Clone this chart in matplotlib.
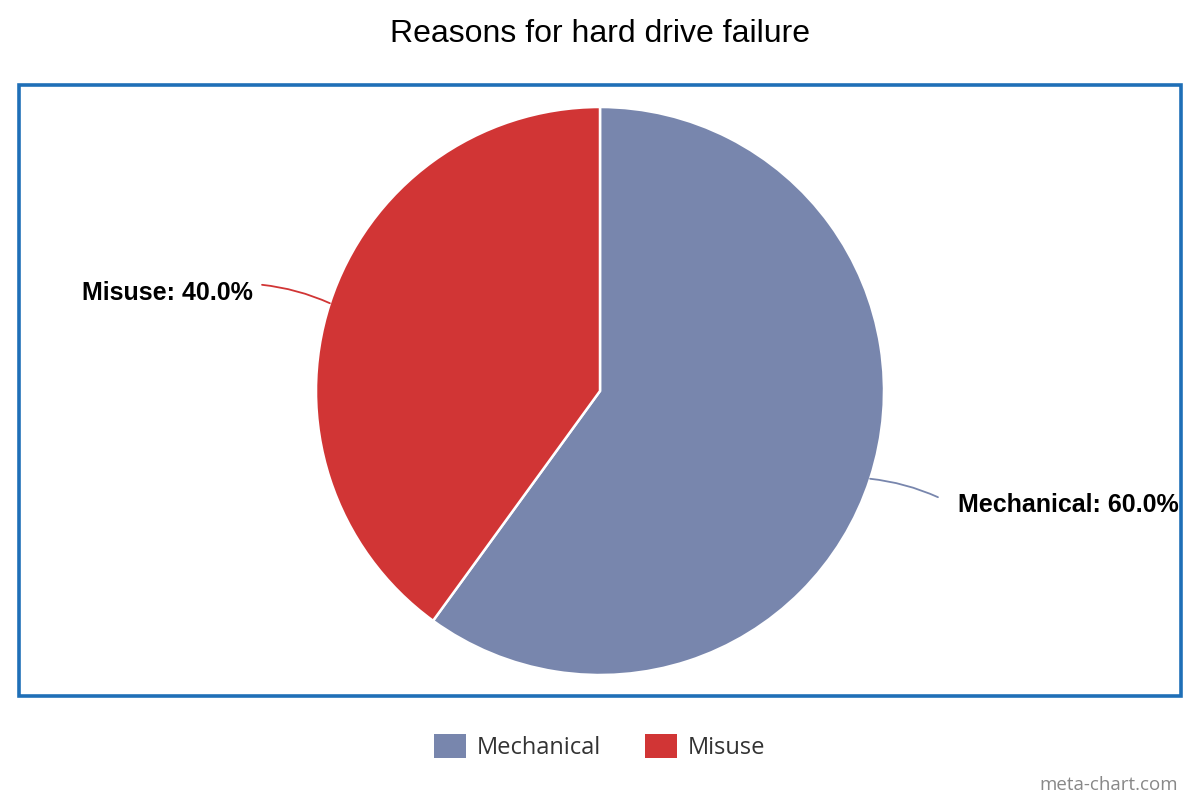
import numpy as np
import matplotlib.pyplot as plt
from matplotlib.patches import Rectangle

labels = ["Mechanical", "Misuse"]
values = [60.0, 40.0]
colors = ["#7886ad", "#d13535"]

fig = plt.figure(figsize=(12, 8), dpi=100)

# blue frame around plot area
fig.patches.append(Rectangle((19 / 1200, (800 - 696) / 800), 1162 / 1200, 611 / 800,
                             transform=fig.transFigure, fill=False,
                             edgecolor="#1f6fb7", linewidth=2.6))

fig.text(0.5, 1 - 34 / 800, "Reasons for hard drive failure", ha="center", va="center",
         fontsize=23, family="Liberation Sans")

r = 284
cx, cy = 600, 800 - 391
ax = fig.add_axes([(cx - r) / 1200, (cy - r) / 800, 2 * r / 1200, 2 * r / 800])
wedges, _ = ax.pie(values, colors=colors, startangle=90, counterclock=False,
                   wedgeprops=dict(edgecolor="white", linewidth=1.8))
ax.set_xlim(-1, 1)
ax.set_ylim(-1, 1)
ax.axis("off")

total = sum(values)
start = 90.0
for lab, v, c in zip(labels, values, colors):
    mid = np.deg2rad(start - 360 * v / total / 2)
    start -= 360 * v / total
    x, y = np.cos(mid), np.sin(mid)
    side = 1 if x > 0 else -1
    ex, ey = side * 1.19, y * 1.21
    ax.annotate("", xy=(x, y), xytext=(ex, ey),
                arrowprops=dict(arrowstyle="-", color=c, lw=1.3,
                                connectionstyle="arc3,rad=%s" % (0.08 * side),
                                shrinkA=0, shrinkB=0), annotation_clip=False)
    if side > 0:
        tx, ty = ex + 0.07, ey - 0.028
    else:
        tx, ty = ex - 0.032, ey - 0.028
    ax.text(tx, ty, "%s: %.1f%%" % (lab, 100 * v / total), ha="left" if side > 0 else "right",
            va="center", fontsize=18, fontweight="bold", family="Liberation Sans",
            clip_on=False)

# legend
lx = 434
for lab, c in zip(labels, colors):
    fig.patches.append(Rectangle((lx / 1200, (800 - 758) / 800), 32 / 1200, 24 / 800,
                                 transform=fig.transFigure, facecolor=c, edgecolor="none"))
    t = fig.text((lx + 43) / 1200, 1 - 748 / 800, lab, ha="left", va="center",
                 fontsize=17, family="Open Sans", color="#333333")
    lx = 645

fig.text(1 - 22 / 1200, 1 - 785 / 800, "meta-chart.com", ha="right", va="center",
         fontsize=13.5, family="Open Sans", color="#888888")

fig.savefig("out.png", dpi=100)
